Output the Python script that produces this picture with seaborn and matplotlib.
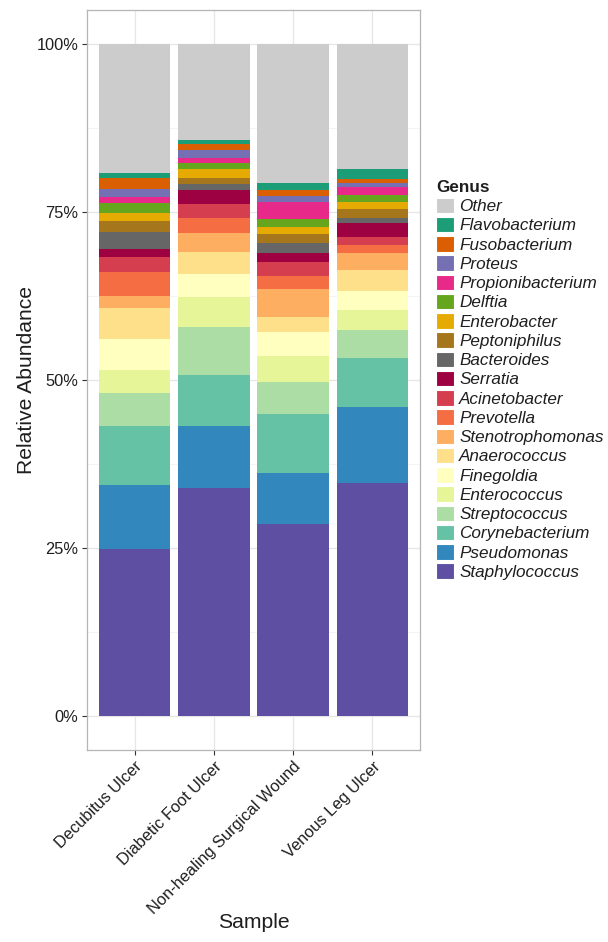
import numpy as np
import pandas as pd
import matplotlib
matplotlib.use("Agg")
import matplotlib.pyplot as plt
from matplotlib.patches import Patch
from matplotlib.ticker import PercentFormatter, MultipleLocator
import seaborn as sns

# Wound types on the x axis
samples = ["Decubitus Ulcer", "Diabetic Foot Ulcer",
           "Non-healing Surgical Wound", "Venous Leg Ulcer"]

# Genera, listed from the bottom of each stack to the top
genera = ["Staphylococcus", "Pseudomonas", "Corynebacterium", "Streptococcus",
          "Enterococcus", "Finegoldia", "Anaerococcus", "Stenotrophomonas",
          "Prevotella", "Acinetobacter", "Serratia", "Bacteroides",
          "Peptoniphilus", "Enterobacter", "Delftia", "Propionibacterium",
          "Proteus", "Fusobacterium", "Flavobacterium", "Other"]

# Relative abundance (%) of each genus, in the order of `genera`
decubitus = [24.85, 9.63, 8.75, 4.88, 3.38, 4.61, 4.66, 1.74, 3.53, 2.32,
             1.10, 2.53, 1.73, 1.19, 1.39, 0.99, 1.10, 1.72, 0.66, 19.24]
diabetic_foot = [34.03, 9.17, 7.54, 7.19, 4.47, 3.33, 3.27, 2.83, 2.23, 2.13,
                 2.08, 0.90, 0.84, 1.43, 0.93, 0.71, 1.15, 0.93, 0.55, 14.29]
surgical = [28.68, 7.58, 8.68, 4.81, 3.82, 3.57, 2.24, 4.12, 2.02, 2.04,
            1.38, 1.40, 1.39, 0.99, 1.19, 2.53, 0.94, 0.89, 1.00, 20.73]
venous_leg = [34.72, 11.31, 7.20, 4.21, 2.98, 2.87, 3.03, 2.53, 1.19, 1.19,
              2.18, 0.65, 1.34, 1.09, 1.04, 1.24, 0.59, 0.51, 1.53, 18.60]

colors = ["#5E4FA2", "#3288BD", "#66C2A5", "#ABDDA4", "#E6F598", "#FFFFBF",
          "#FEE08B", "#FDAE61", "#F46D43", "#D53E4F", "#9E0142", "#666666",
          "#A6761D", "#E6AB02", "#66A61E", "#E7298A", "#7570B3", "#D95F02",
          "#1B9E77", "#CCCCCC"]

# Long-form table with the running top of every segment
df = pd.DataFrame({
    "Sample": np.repeat(samples, len(genera)),
    "Genus": genera * len(samples),
    "Abundance": decubitus + diabetic_foot + surgical + venous_leg,
})
df["Genus"] = pd.Categorical(df["Genus"], categories=genera, ordered=True)
df["Top"] = df.groupby("Sample", sort=False)["Abundance"].cumsum()

plt.rcParams["font.family"] = ["Liberation Sans", "DejaVu Sans"]
text_col = "#1e1e1e"

fig = plt.figure(figsize=(6.08, 9.42), dpi=100)
ax = fig.add_axes([87 / 608, 1 - 750 / 942, 333 / 608, 739.6 / 942])

# Stacked bars: draw the tallest cumulative layer first, then cover it
for genus, col in zip(reversed(genera), reversed(colors)):
    sub = df[df["Genus"] == genus]
    sns.barplot(data=sub, x="Sample", y="Top", order=samples, color=col,
                saturation=1, width=0.9, errorbar=None, linewidth=0,
                ax=ax, zorder=3)

ax.set_xlim(-0.6, 3.6)
ax.set_ylim(-5, 105)
ax.yaxis.set_major_locator(MultipleLocator(25))
ax.yaxis.set_minor_locator(MultipleLocator(12.5))
ax.yaxis.set_major_formatter(PercentFormatter(xmax=100, decimals=0))

ax.set_axisbelow(True)
ax.grid(which="major", axis="both", color="#E6E6E6", linewidth=0.9)
ax.grid(which="minor", axis="y", color="#F3F3F3", linewidth=0.6)
for s in ax.spines.values():
    s.set_color("#B5B5B5")
    s.set_linewidth(0.9)

ax.tick_params(axis="both", which="major", length=3.3, width=0.8,
               color="#333333", labelsize=11.8, labelcolor=text_col, pad=3)
ax.tick_params(axis="y", which="minor", length=0)
ax.set_xticks(range(len(samples)))
ax.set_xticklabels(samples, rotation=45, ha="right", va="top",
                   rotation_mode="anchor")

ax.set_xlabel("Sample", fontsize=15.2, color=text_col, labelpad=-3)
ax.set_ylabel("Relative Abundance", fontsize=15.2, color=text_col, labelpad=0)

handles = [Patch(facecolor=c, edgecolor="white", linewidth=0.8, label=g)
           for g, c in zip(reversed(genera), reversed(colors))]
leg = fig.legend(handles=handles, loc="upper left",
                 bbox_to_anchor=(436 / 608, 1 - 180 / 942),
                 frameon=False, borderpad=0, borderaxespad=0,
                 handlelength=1.05, handleheight=1.02, handletextpad=0.3,
                 labelspacing=0.155, title="Genus", alignment="left",
                 prop={"size": 12.3, "style": "italic"},
                 title_fontproperties={"size": 12.3, "weight": "bold"})
for t in leg.get_texts():
    t.set_color(text_col)
leg.get_title().set_color(text_col)

fig.savefig("out.png", dpi=100, facecolor="white")
